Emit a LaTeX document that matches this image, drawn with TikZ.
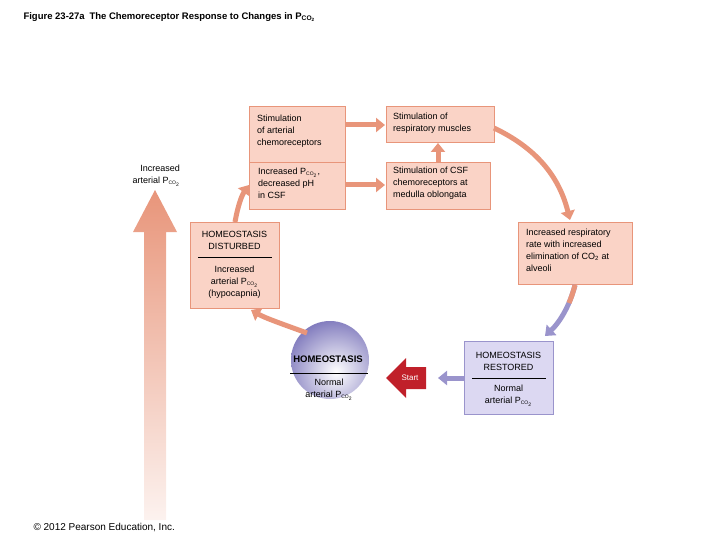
\documentclass[tikz,border=0pt]{standalone}
\usepackage{fontspec}
\setmainfont{Liberation Sans}
\usetikzlibrary{arrows.meta,shapes.arrows}
\definecolor{sal}{HTML}{E8957A}
\definecolor{salfill}{HTML}{FAD3C6}
\definecolor{pur}{HTML}{9A94CC}
\definecolor{purfill}{HTML}{DCD8F2}
\definecolor{purdark}{HTML}{7E78BC}
\definecolor{startred}{HTML}{C0202A}
\tikzset{
 sbox/.style={draw=sal,fill=salfill,line width=0.8pt,inner sep=0pt},
 pbox/.style={draw=pur,fill=purfill,line width=0.8pt},
 txt/.style={font=\fontsize{9}{12}\selectfont,align=left,anchor=north west,inner sep=0pt},
 ctxt/.style={font=\fontsize{9}{12}\selectfont,align=center,inner sep=0pt},
 flow/.style={draw=sal,line width=5pt,-{Triangle[length=9pt,width=14pt]}},
}
\newcommand{\pco}{P\textsubscript{\tiny CO\textsubscript{2}}}
\begin{document}
\begin{tikzpicture}[x=1pt,y=-1pt]
\useasboundingbox (0,0) rectangle (720,540);
\node[anchor=west,font=\fontsize{9.5}{11}\selectfont\bfseries] (title) at (20,17) {Figure 23-27a\enspace The Chemoreceptor Response to Changes in P\textsubscript{CO\textsubscript{2}}};
% boxes
\path[sbox] (249,106) rectangle (345,162); \node[txt] (sa) at (257,115) {Stimulation\\of arterial\\chemoreceptors};
\path[sbox] (249,162) rectangle (345,209); \node[txt] (ip) at (258,168) {Increased \pco,\\decreased pH\\in CSF};
\path[sbox] (386,106) rectangle (494,142); \node[txt] (sm) at (393,113) {Stimulation of\\respiratory muscles};
\path[sbox] (386,162) rectangle (490,209); \node[txt] (sc) at (393,167) {Stimulation of CSF\\chemoreceptors at\\medulla oblongata};
\path[sbox] (518,222) rectangle (632,284); \node[txt] (rr) at (526,229) {Increased respiratory\\rate with increased\\elimination of CO\textsubscript{2} at\\alveoli};
\path[sbox] (190,222) rectangle (279,308);
\node[ctxt] (hd) at (234.5,240) {HOMEOSTASIS\\DISTURBED};
\draw[line width=1pt] (198,257.5) -- (272,257.5);
\node[ctxt] (hd2) at (234.5,282) {Increased\\arterial \pco\\(hypocapnia)};
\path[pbox] (464,341) rectangle (553,414);
\node[ctxt] (hr) at (508.5,361) {HOMEOSTASIS\\RESTORED};
\draw[line width=1pt] (472,378.5) -- (546,378.5);
\node[ctxt] (hr2) at (508.5,396) {Normal\\arterial \pco};
% circle
\begin{scope}
\clip (330,360) circle (39);
\shade[inner color=white, outer color=purdark] (336,372) circle (54);
\end{scope}
\node[font=\fontsize{9.5}{11}\selectfont\bfseries,inner sep=0pt] (ho) at (328,359) {HOMEOSTASIS};
\draw[line width=1pt] (290,373) -- (368,373);
\node[ctxt] (ho2) at (329,390) {Normal\\arterial \pco};
% left label and big arrow
\node[ctxt,align=right,anchor=north east] (ia) at (180,165) {Increased\\arterial \pco};
\shade[top color=sal,bottom color=sal!12] (144,520) -- (144,232) -- (133,232) -- (155,190) -- (177,232) -- (166,232) -- (166,520) -- cycle;
% flow arrows
\draw[flow] (346,125) -- (385,125);
\draw[flow] (346,185) -- (385,185);
\draw[flow] (438,162) -- (438,143);
\draw[flow] (494,128) .. controls (540,150) and (560,180) .. (570,220);
\draw[flow] (235,222) .. controls (238,205) and (242,195) .. (249,185);
\draw[flow] (307,333) .. controls (285,325) and (265,318) .. (251,310);
\draw[draw=pur,line width=5pt,-{Triangle[length=9pt,width=14pt]}] (575,285) .. controls (570,305) and (560,322) .. (545,336);
\draw[sal,line width=5pt] (575,285) .. controls (573,293) and (571,298) .. (569,303);
\draw[draw=pur,line width=5pt,-{Triangle[length=9pt,width=14pt]}] (464,378) -- (438,378);
\fill[startred] (386,378) -- (406,358) -- (406,367) -- (426,367) -- (426,389) -- (406,389) -- (406,398) -- cycle;
\node[text=white,font=\fontsize{8}{9}\selectfont,inner sep=0pt] (st) at (410,378) {Start};
\node[anchor=south west,font=\fontsize{10}{12}\selectfont] (cp) at (30,535) {\textcopyright{} 2012 Pearson Education, Inc.};
\end{tikzpicture}
\end{document}
